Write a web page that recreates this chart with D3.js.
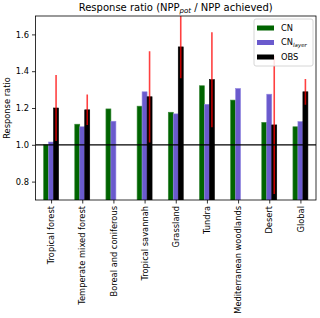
<!DOCTYPE html>
<html>
<head>
<meta charset="utf-8">
<script src="https://cdn.jsdelivr.net/npm/d3@7"></script>
<style>
  body { margin: 0; background: #fff; }
  svg { font-family: "DejaVu Sans", sans-serif; }
</style>
</head>
<body>
<div id="chart"></div>
<script>
const categories = ['Tropical forest', 'Temperate mixed forest', 'Boreal and coniferous',
    'Tropical savannah', 'Grassland', 'Tundra', 'Mediterranean woodlands', 'Desert', 'Global'];
const cnValues = [1.00, 1.112, 1.195, 1.21, 1.177, 1.321, 1.243, 1.122, 1.098];
const cnLayerValues = [1.015, 1.098, 1.128, 1.288, 1.168, 1.22, 1.306, 1.275, 1.126];
const obsValues = [1.20, 1.19, null, 1.261, 1.532, 1.354, null, 1.108, 1.288];
const obsErrors = [0.18, 0.083, null, 0.248, 0.17, 0.258, null, 0.375, 0.07];
const yTicks = [0.8, 1.0, 1.2, 1.4, 1.6];

const width = 320;
const height = 318;
const margin = { top: 16, right: 4, bottom: 118, left: 35.5 };

const svg = d3.select('#chart')
    .append('svg')
    .attr('width', width)
    .attr('height', height);

const x = d3.scaleLinear()
    .domain([-0.5, 8.5])
    .range([margin.left, width - margin.right]);

const y = d3.scaleLinear()
    .domain([0.7, 1.7])
    .range([height - margin.bottom, margin.top]);

svg.append('clipPath')
    .attr('id', 'plot-clip')
    .append('rect')
    .attr('x', margin.left)
    .attr('y', margin.top)
    .attr('width', width - margin.left - margin.right)
    .attr('height', height - margin.top - margin.bottom);

const plot = svg.append('g').attr('clip-path', 'url(#plot-clip)');

const barWidth = 0.16;
const series = [
    { values: cnValues, offset: -0.16, color: '#006400', edge: '#3c8a3c' },
    { values: cnLayerValues, offset: 0, color: '#6a5acd', edge: '#9488e0' },
    { values: obsValues, offset: 0.16, color: '#000000', edge: '#000000' }
];

series.forEach(s => {
    plot.selectAll(null)
        .data(s.values.map((v, i) => ({ v, i })).filter(d => d.v != null))
        .enter()
        .append('rect')
        .attr('x', d => x(d.i + s.offset - barWidth / 2))
        .attr('width', x(barWidth) - x(0))
        .attr('y', d => y(d.v))
        .attr('height', d => y(0.6) - y(d.v))
        .attr('fill', s.color)
        .attr('stroke', s.edge)
        .attr('stroke-width', 0.6);
});

// error bars on OBS
plot.selectAll('.err')
    .data(obsValues.map((v, i) => ({ v, e: obsErrors[i], i })).filter(d => d.v != null))
    .enter()
    .append('line')
    .attr('class', 'err')
    .attr('x1', d => x(d.i + 0.16))
    .attr('x2', d => x(d.i + 0.16))
    .attr('y1', d => y(d.v - d.e))
    .attr('y2', d => y(d.v + d.e))
    .attr('stroke', 'red')
    .attr('stroke-opacity', 0.75)
    .attr('stroke-width', 1.6);

// reference line at 1.0
plot.append('line')
    .attr('x1', margin.left)
    .attr('x2', width - margin.right)
    .attr('y1', y(1))
    .attr('y2', y(1))
    .attr('stroke', '#000')
    .attr('stroke-width', 1.2);

// axes
const yAxis = svg.append('g')
    .attr('transform', `translate(${margin.left},0)`)
    .call(d3.axisLeft(y).tickValues(yTicks).tickFormat(d3.format('.1f')).tickSize(3.5).tickPadding(3));

const xAxis = svg.append('g')
    .attr('transform', `translate(0,${height - margin.bottom})`)
    .call(d3.axisBottom(x).tickValues(d3.range(categories.length)).tickFormat(i => categories[i]).tickSize(3.5).tickPadding(3));

xAxis.selectAll('text')
    .attr('transform', 'rotate(-90)')
    .attr('x', -6)
    .attr('y', 0)
    .attr('dy', '0.32em')
    .style('text-anchor', 'end');

[yAxis, xAxis].forEach(a => {
    a.select('.domain').remove();
    a.selectAll('text').attr('font-size', 8.3).attr('fill', '#000').attr('font-family', 'DejaVu Sans');
    a.selectAll('line').attr('stroke', '#000').attr('stroke-width', 0.8);
});

// frame
svg.append('rect')
    .attr('x', margin.left)
    .attr('y', margin.top)
    .attr('width', width - margin.left - margin.right)
    .attr('height', height - margin.top - margin.bottom)
    .attr('fill', 'none')
    .attr('stroke', '#000')
    .attr('stroke-width', 0.8);

// title
const title = svg.append('text')
    .attr('x', (margin.left + width - margin.right) / 2)
    .attr('y', 11)
    .attr('text-anchor', 'middle')
    .attr('font-size', 10)
    .attr('fill', '#000');
title.append('tspan').text('Response ratio (NPP');
title.append('tspan').attr('font-size', 7).attr('font-style', 'italic').attr('dy', 2).text('pot');
title.append('tspan').attr('dy', -2).text(' / NPP achieved)');

// y label
svg.append('text')
    .attr('transform', `translate(10,${(margin.top + height - margin.bottom) / 2}) rotate(-90)`)
    .attr('text-anchor', 'middle')
    .attr('font-size', 8.3)
    .attr('fill', '#000')
    .text('Response ratio');

// legend
const legend = svg.append('g').attr('transform', 'translate(254,19)');
legend.append('rect')
    .attr('width', 59)
    .attr('height', 47)
    .attr('rx', 2)
    .attr('fill', '#fff')
    .attr('fill-opacity', 0.85)
    .attr('stroke', '#ccc')
    .attr('stroke-width', 0.8);

const legendItems = [
    { label: 'CN', sub: null, color: '#006400' },
    { label: 'CN', sub: 'layer', color: '#6a5acd' },
    { label: 'OBS', sub: null, color: '#000000' }
];

legendItems.forEach((d, i) => {
    const gy = 9 + i * 14.5;
    legend.append('rect')
        .attr('x', 3)
        .attr('y', gy - 2.5)
        .attr('width', 17)
        .attr('height', 5)
        .attr('fill', d.color);
    const t = legend.append('text')
        .attr('x', 27)
        .attr('y', gy)
        .attr('dy', '0.35em')
        .attr('font-size', 8.3)
        .attr('fill', '#000');
    t.append('tspan').text(d.label);
    if (d.sub) {
        t.append('tspan').attr('font-size', 5.5).attr('font-style', 'italic').attr('dy', 1.5).text(d.sub);
    }
});
</script>
</body>
</html>
